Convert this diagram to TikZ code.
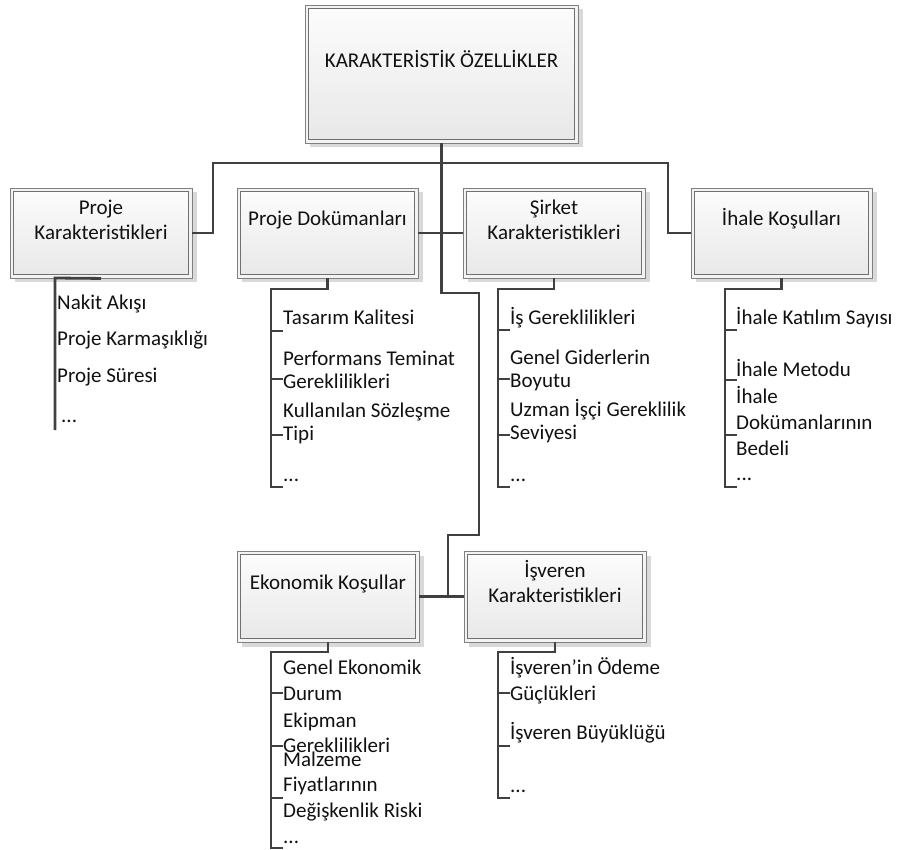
\documentclass[tikz,border=0pt]{standalone}
\usepackage{fontspec}
\setmainfont{Carlito}
\usetikzlibrary{shadows}
\definecolor{linec}{HTML}{404040}
\definecolor{boxb}{HTML}{808080}
\definecolor{inb}{HTML}{707070}
\definecolor{boxfill}{HTML}{F3F3F3}
\definecolor{shadowc}{HTML}{D9D9D9}
\definecolor{topc}{HTML}{FCFCFC}
\definecolor{botc}{HTML}{E8E8E8}
\definecolor{txt}{HTML}{111111}
\begin{document}
\begin{tikzpicture}[x=1pt,y=-1pt,
  conn/.style={draw=linec, line width=2.8pt},
  tick/.style={draw=linec, line width=2.4pt},
  box/.style={draw=boxb, line width=0.9pt, fill=boxfill, inner sep=0pt,
    minimum width=182, minimum height=90,
    drop shadow={shadow xshift=4.5pt, shadow yshift=-4.5pt, fill=shadowc, opacity=1}},
  inbox/.style={draw=inb, line width=0.9pt, top color=topc, bottom color=botc},
  lbl/.style={anchor=base, inner sep=0pt, align=center, font=\fontsize{21}{25}\selectfont, text=txt},
  itm/.style={anchor=base west, inner sep=0pt, align=left, font=\fontsize{21}{#1}\selectfont, text=txt},
  itm/.default=23]
\useasboundingbox (0,0) rectangle (897,850);

% boxes
\node[box, minimum width=273, minimum height=138] (top) at (441.5,74) {};
\node[box] (pk) at (101,233) {};
\node[box, minimum width=181] (pd) at (327.5,233) {};
\node[box] (sk) at (554,233) {};
\node[box, minimum width=181] (ih) at (781.5,233) {};
\node[box, minimum height=91] (ek) at (328,596.5) {};
\node[box, minimum height=91] (iv) at (555,596.5) {};
\foreach \b in {top,pk,pd,sk,ih,ek,iv}
  \draw[inbox] ([shift={(4,4)}]\b.north west) rectangle ([shift={(-4,-4)}]\b.south east);

% box labels (multi-line nodes are placed by the baseline of their last line)
\node[lbl] (ttop) at (441.5,68) {KARAKTERİSTİK ÖZELLİKLER};
\node[lbl] (tpk) at (101,240) {Proje\\Karakteristikleri};
\node[lbl] (tpd) at (327.5,226) {Proje Dokümanları};
\node[lbl] (tsk) at (554,240) {Şirket\\Karakteristikleri};
\node[lbl] (tih) at (781.5,226) {İhale Koşulları};
\node[lbl] (tek) at (328,589) {Ekonomik Koşullar};
\node[lbl] (tiv) at (555,602) {İşveren\\Karakteristikleri};

% main connectors
\coordinate (busL) at (213,163);
\coordinate (busR) at (668,163);
\coordinate (trA) at (479,293);
\coordinate (trB) at (448,535);
\coordinate (jn) at (448,596.5);
\draw[conn] (pk.east) -| (busL) -- (busR) |- (ih.west);
\draw[conn] (top.south) |- (trA) |- (trB) -- (jn);
\draw[conn] (pd.east) -- (pd.east -| top.south);
\draw[conn] (sk.west) -- (sk.west -| top.south);
\draw[conn] (ek.east) -- (iv.west);

% list brackets
\coordinate (pkL) at (55,278);   \coordinate (pkE) at (55,430);
\coordinate (pdL) at (271,289);  \coordinate (pdE) at (271,487);
\coordinate (skL) at (498,289);  \coordinate (skE) at (498,487);
\coordinate (ihL) at (725,289);  \coordinate (ihE) at (725,487);
\coordinate (ekL) at (271,652);  \coordinate (ekE) at (271,848);
\coordinate (ivL) at (498,652);  \coordinate (ivE) at (498,798);
\draw[conn] (pk.south) -- (pkL) -- (pkE);
\draw[conn] (pd.south) |- (pdL) -- (pdE) -- ++(12,0);
\draw[conn] (sk.south) |- (skL) -- (skE) -- ++(12,0);
\draw[conn] (ih.south) |- (ihL) -- (ihE) -- ++(12,0);
\draw[conn] (ek.south) |- (ekL) -- (ekE) -- ++(12,0);
\draw[conn] (iv.south) |- (ivL) -- (ivE) -- ++(12,0);
\foreach \y in {331,379,435} \draw[tick] (pdL |- 0,\y) -- ++(12,0);
\foreach \y in {330,379,435} \draw[tick] (skL |- 0,\y) -- ++(12,0);
\foreach \y in {330,380,435} \draw[tick] (ihL |- 0,\y) -- ++(12,0);
\foreach \y in {693,746,798} \draw[tick] (ekL |- 0,\y) -- ++(12,0);
\foreach \y in {693,746} \draw[tick] (ivL |- 0,\y) -- ++(12,0);

% list items
\node[itm] (pk1) at (57,310) {Nakit Akışı};
\node[itm] (pk2) at (57,345) {Proje Karmaşıklığı};
\node[itm] (pk3) at (57,382) {Proje Süresi};
\node[itm] (pk4) at (61,422) {...};

\node[itm] (pd1) at (283,324) {Tasarım Kalitesi};
\node[itm] (pd2) at (283,388) {Performans Teminat\\Gereklilikleri};
\node[itm] (pd3) at (283,440) {Kullanılan Sözleşme\\Tipi};
\node[itm] (pd4) at (283,481) {...};

\node[itm] (sk1) at (510,324) {İş Gereklilikleri};
\node[itm] (sk2) at (510,387) {Genel Giderlerin\\Boyutu};
\node[itm] (sk3) at (510,439) {Uzman İşçi Gereklilik\\Seviyesi};
\node[itm] (sk4) at (510,481) {...};

\node[itm] (ih1) at (736,324) {İhale Katılım Sayısı};
\node[itm] (ih2) at (736,377) {İhale Metodu};
\node[itm=26] (ih3) at (736,455) {İhale\\Dokümanlarının\\Bedeli};
\node[itm] (ih4) at (736,480) {...};

\node[itm=26] (ek1) at (283,700) {Genel Ekonomik\\Durum};
\node[itm=25] (ek2) at (283,752) {Ekipman\\Gereklilikleri};
\node[itm=25.5] (ek3) at (283,817) {Malzeme\\Fiyatlarının\\Değişkenlik Riski};
\node[itm] (ek4) at (283,843) {...};

\node[itm=26] (iv1) at (510,700) {İşveren’in Ödeme\\Güçlükleri};
\node[itm] (iv2) at (510,739) {İşveren Büyüklüğü};
\node[itm] (iv3) at (510,792) {...};
\end{tikzpicture}
\end{document}
